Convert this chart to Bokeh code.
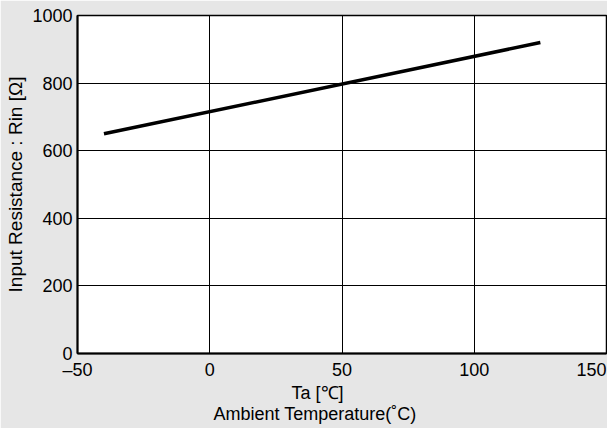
import math
from bokeh.plotting import figure
from bokeh.models import FixedTicker, Range1d, Title
from bokeh.embed import file_html
from bokeh.resources import INLINE

# ---- data ----
temperature_c = [-40, 125]
input_resistance_ohm = [650, 920]

x_ticks = [-50, 0, 50, 100, 150]
x_tick_labels = ["–50", "0", "50", "100", "150"]
y_ticks = [0, 200, 400, 600, 800, 1000]

x_title_1 = "Ta [℃]"
x_title_2 = "Ambient Temperature(˚C)"
y_title = "Input Resistance : Rin [Ω]"

BG = "#e6e6e6"
FONT = "Liberation Sans"
FS = "18px"

W, H = 607, 428
ML, MR, MT, MB = 77, 1, 15, 75
FRAME_W = W - ML - MR

p = figure(width=W, height=H, output_backend="svg", toolbar_location=None,
           x_range=Range1d(x_ticks[0], x_ticks[-1]), y_range=Range1d(y_ticks[0], y_ticks[-1]),
           min_border_left=ML, min_border_right=MR, min_border_top=MT, min_border_bottom=MB)
p.border_fill_color = BG
p.background_fill_color = "white"
p.outline_line_color = "black"
p.outline_line_width = 1.5

# the last x label is pulled inside the page (as in the reference): shift by half its width
half_label_px = 15
px_per_unit = FRAME_W / (x_ticks[-1] - x_ticks[0])
x_label_pos = x_ticks[:-1] + [x_ticks[-1] - half_label_px / px_per_unit]

p.xaxis.ticker = FixedTicker(ticks=x_label_pos)
p.xaxis.major_label_overrides = {pos: lab for pos, lab in zip(x_label_pos, x_tick_labels)}
p.yaxis.ticker = FixedTicker(ticks=y_ticks)
for ax in (p.xaxis, p.yaxis):
    ax.axis_line_color = "black"
    ax.axis_line_width = 2
    ax.major_tick_out = 0
    ax.major_tick_in = 0
    ax.minor_tick_out = 0
    ax.minor_tick_in = 0
    ax.major_label_text_font = FONT
    ax.major_label_text_font_size = FS
    ax.major_label_text_color = "black"
p.yaxis.major_label_standoff = 5
p.xaxis.major_label_standoff = 6

p.yaxis.axis_label = y_title
p.yaxis.axis_label_text_font = FONT
p.yaxis.axis_label_text_font_size = "19px"
p.yaxis.axis_label_text_font_style = "normal"
p.yaxis.axis_label_text_color = "black"
p.yaxis.axis_label_standoff = 3

p.xgrid.ticker = FixedTicker(ticks=x_ticks)
p.ygrid.ticker = FixedTicker(ticks=y_ticks)
p.grid.grid_line_color = "black"
p.grid.grid_line_width = 1
p.grid.grid_line_alpha = 1

p.line(temperature_c, input_resistance_ohm, line_color="black", line_width=3.5)

# x-axis titles (two lines, left part of the frame as in the reference)
t1 = Title(text=x_title_1, align="left", offset=214, standoff=-4,
           text_font=FONT, text_font_size=FS, text_font_style="normal", text_color="black")
t2 = Title(text=x_title_2, align="left", offset=136, standoff=3,
           text_font=FONT, text_font_size=FS, text_font_style="normal", text_color="black")
p.add_layout(t1, "below")
p.add_layout(t2, "below")

open("out.html", "w").write(file_html(p, INLINE))
